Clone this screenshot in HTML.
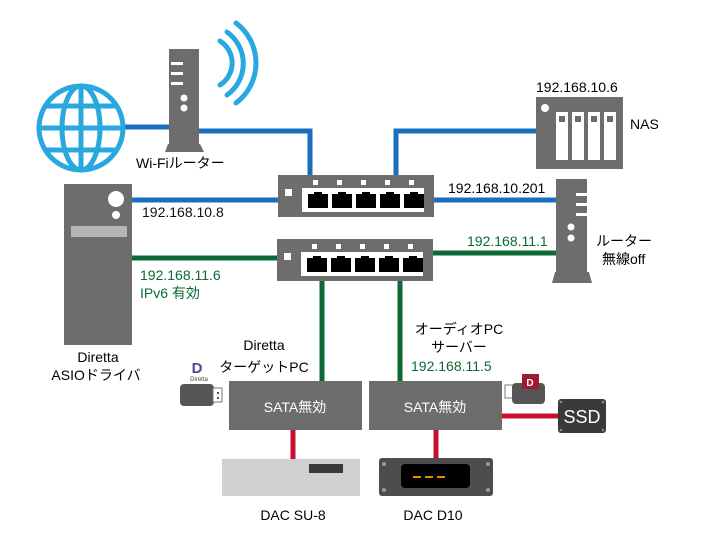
<!DOCTYPE html>
<html><head><meta charset="utf-8"><style>
body{margin:0;background:#fff}
svg text{font-family:"Liberation Sans","Noto Sans CJK JP",sans-serif;font-size:14px}
</style></head><body>
<svg width="709" height="544" viewBox="0 0 709 544" xmlns="http://www.w3.org/2000/svg">
<!-- blue lines -->
<g stroke="#1a6fba" stroke-width="5" fill="none">
<line x1="124" y1="127" x2="170" y2="127"/>
<polyline points="198,131 310,131 310,176"/>
<line x1="132" y1="200" x2="279" y2="200"/>
<line x1="433" y1="200" x2="557" y2="200"/>
<polyline points="396,176 396,131 537,131"/>
</g>
<!-- green lines -->
<g stroke="#0d6a36" stroke-width="5" fill="none">
<line x1="132" y1="258" x2="278" y2="258"/>
<line x1="432" y1="253" x2="557" y2="253"/>
<line x1="322" y1="281" x2="322" y2="382"/>
<line x1="400" y1="281" x2="400" y2="382"/>
</g>
<!-- red lines -->
<g stroke="#c8102e" stroke-width="5" fill="none">
<line x1="293" y1="430" x2="293" y2="460"/>
<line x1="436" y1="430" x2="436" y2="460"/>
<line x1="502" y1="416" x2="559" y2="416"/>
</g>
<!-- globe -->
<g stroke="#29a8e0" stroke-width="5" fill="none">
<circle cx="81" cy="128" r="42"/>
<ellipse cx="81" cy="128" rx="19" ry="42"/>
<line x1="81" y1="86" x2="81" y2="170"/>
<line x1="39" y1="128" x2="123" y2="128"/>
<line x1="46" y1="106" x2="116" y2="106"/>
<line x1="46" y1="150" x2="116" y2="150"/>
</g>
<!-- wifi arcs -->
<g stroke="#29a8e0" stroke-width="5" fill="none" stroke-linecap="round">
<path d="M220 41 A26 26 0 0 1 220 85"/>
<path d="M227 32 A38.6 38.6 0 0 1 227 95"/>
<path d="M236 23 A50 50 0 0 1 236 103"/>
</g>
<!-- wifi router -->
<rect x="169" y="49" width="30" height="95" fill="#6d6d6d"/>
<polygon points="168,144 200,144 204,152 165,152" fill="#6d6d6d"/>
<g fill="#fff"><rect x="171" y="62" width="12" height="3"/><rect x="171" y="72" width="12" height="3"/><rect x="171" y="82" width="12" height="3"/>
<circle cx="184" cy="98" r="3.5"/><circle cx="184" cy="108" r="3.5"/></g>
<text x="136" y="168">Wi-Fiルーター</text>
<!-- PC tower -->
<rect x="64" y="184" width="68" height="161" fill="#6d6d6d"/>
<circle cx="116" cy="199" r="8" fill="#fff"/>
<circle cx="116" cy="215" r="4" fill="#fff"/>
<rect x="71" y="226" width="56" height="11" fill="#b5b5b5"/>
<text x="98" y="362" text-anchor="middle">Diretta</text>
<text x="96" y="380" text-anchor="middle">ASIOドライバ</text>
<text x="142" y="217" fill="#111">192.168.10.8</text>
<text x="140" y="280" fill="#0d6a36">192.168.11.6</text>
<text x="140" y="298" fill="#0d6a36">IPv6 有効</text>
<!-- switches -->
<g id="sw">
<rect x="278" y="175" width="156" height="42" fill="#6d6d6d"/>
<rect x="302" y="188" width="122" height="24" fill="#fff"/>
<rect x="285" y="189" width="7" height="7" fill="#fff"/>
<g fill="#fff"><rect x="313" y="180" width="5" height="5"/><rect x="337" y="180" width="5" height="5"/><rect x="361" y="180" width="5" height="5"/><rect x="385" y="180" width="5" height="5"/><rect x="409" y="180" width="5" height="5"/></g>
<g fill="#000">
<path d="M308 194h6v-2h8v2h6v14h-20z"/><path d="M332 194h6v-2h8v2h6v14h-20z"/><path d="M356 194h6v-2h8v2h6v14h-20z"/><path d="M380 194h6v-2h8v2h6v14h-20z"/><path d="M404 194h6v-2h8v2h6v14h-20z"/>
</g>
</g>
<use href="#sw" transform="translate(-1,64)"/>
<!-- NAS -->
<rect x="536" y="97" width="87" height="72" fill="#6d6d6d"/>
<circle cx="545" cy="108" r="4" fill="#fff"/>
<g fill="#fff"><rect x="556" y="112" width="12" height="48"/><rect x="572" y="112" width="12" height="48"/><rect x="588" y="112" width="12" height="48"/><rect x="604" y="112" width="12" height="48"/></g>
<g fill="#6d6d6d"><rect x="559" y="116" width="6" height="6"/><rect x="575" y="116" width="6" height="6"/><rect x="591" y="116" width="6" height="6"/><rect x="607" y="116" width="6" height="6"/></g>
<text x="536" y="92">192.168.10.6</text>
<text x="630" y="129">NAS</text>
<!-- router 2 -->
<rect x="556" y="179" width="31" height="94" fill="#6d6d6d"/>
<polygon points="555,272 589,272 592,283 552,283" fill="#6d6d6d"/>
<g fill="#fff"><rect x="576" y="193" width="11" height="3"/><rect x="576" y="203" width="11" height="3"/><rect x="576" y="213" width="11" height="3"/>
<circle cx="571" cy="227" r="3.5"/><circle cx="571" cy="238" r="3.5"/></g>
<text x="448" y="193">192.168.10.201</text>
<text x="467" y="246" fill="#0d6a36">192.168.11.1</text>
<text x="596" y="246">ルーター</text>
<text x="602" y="264">無線off</text>
<!-- PCs -->
<rect x="229" y="381" width="133" height="49" fill="#6d6d6d"/>
<rect x="369" y="381" width="133" height="49" fill="#6d6d6d"/>
<text x="295" y="412" text-anchor="middle" fill="#fff">SATA無効</text>
<text x="435" y="412" text-anchor="middle" fill="#fff">SATA無効</text>
<text x="264" y="350" text-anchor="middle">Diretta</text>
<text x="264" y="372" text-anchor="middle">ターゲットPC</text>
<text x="459" y="334" text-anchor="middle">オーディオPC</text>
<text x="459" y="352" text-anchor="middle">サーバー</text>
<text x="411" y="371" fill="#0d6a36">192.168.11.5</text>
<!-- USB left -->
<rect x="180" y="384" width="34" height="22" rx="4" fill="#555"/>
<rect x="213" y="388" width="9" height="14" fill="#fff" stroke="#777" stroke-width="1"/>
<rect x="217" y="392" width="2" height="2" fill="#555"/><rect x="217" y="397" width="2" height="2" fill="#555"/>
<text x="197" y="373" font-size="15" font-weight="bold" fill="#5b3f8c" text-anchor="middle" style="font-size:15px">D</text>
<text x="199" y="381" text-anchor="middle" fill="#444" style="font-size:6px">Diretta</text>
<!-- USB right -->
<rect x="505" y="385" width="9" height="13" fill="#fff" stroke="#777" stroke-width="1"/>
<rect x="512" y="383" width="33" height="21" rx="4" fill="#555"/>
<rect x="522" y="374" width="17" height="15" fill="#9e1b32"/>
<text x="530" y="386" text-anchor="middle" fill="#fff" style="font-size:10px;font-weight:bold">D</text>
<!-- SSD -->
<rect x="558" y="399" width="48" height="34" rx="3" fill="#3a3a3a"/>
<g fill="#888"><circle cx="561" cy="402" r="1.3"/><circle cx="603" cy="402" r="1.3"/><circle cx="561" cy="430" r="1.3"/><circle cx="603" cy="430" r="1.3"/></g>
<text x="582" y="423" text-anchor="middle" fill="#fff" style="font-size:18px">SSD</text>
<!-- DAC SU-8 -->
<rect x="222" y="459" width="138" height="37" fill="#d0d0d0"/>
<rect x="309" y="464" width="34" height="9" fill="#3a3a3a"/>
<text x="293" y="520" text-anchor="middle">DAC SU-8</text>
<!-- DAC D10 -->
<rect x="379" y="458" width="114" height="38" rx="3" fill="#4d4d4d"/>
<g fill="#999"><circle cx="384" cy="464" r="2"/><circle cx="488" cy="464" r="2"/><circle cx="384" cy="490" r="2"/><circle cx="488" cy="490" r="2"/></g>
<rect x="401" y="464" width="69" height="24" rx="4" fill="#000"/>
<g fill="#e08a00"><rect x="413" y="476" width="8" height="2"/><rect x="425" y="476" width="8" height="2"/><rect x="437" y="476" width="8" height="2"/></g>
<text x="433" y="520" text-anchor="middle">DAC D10</text>
</svg>
</body></html>
